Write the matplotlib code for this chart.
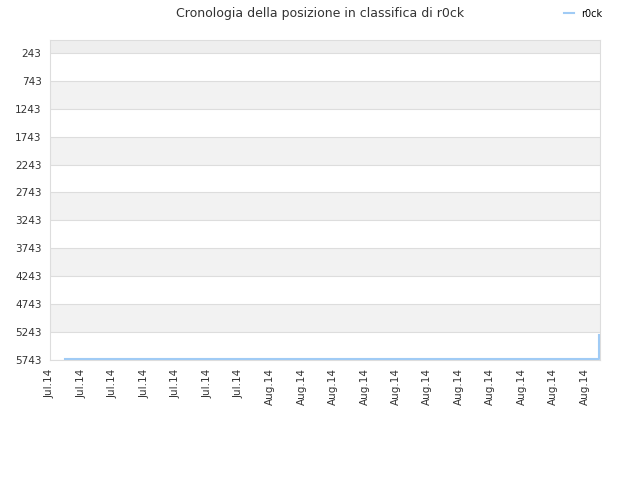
import matplotlib
matplotlib.use("Agg")
import matplotlib.pyplot as plt
from matplotlib.lines import Line2D

# x positions are days from the first tick; ticks every 3 days
tick_days = list(range(0, 52, 3))
tick_labels = ["Jul.14"] * 7 + ["Aug.14"] * 11

days = [1.4, 6, 12, 18, 24, 30, 36, 42, 48, 52.4, 52.4]
ranks = [5725, 5725, 5725, 5725, 5725, 5725, 5725, 5725, 5725, 5725, 5290]

ytick_vals = list(range(243, 5744, 500))

fig = plt.figure(figsize=(6.4, 4.8), dpi=100)
ax = fig.add_axes([0.078, 0.25, 0.86, 0.667])

ylo, yhi = 10, 5743
# alternating background bands
edges = [ylo] + ytick_vals
for i in range(len(edges) - 1):
    if i % 2 == 0:
        col = "#eeeeee" if i == 0 else "#f2f2f2"
        ax.axhspan(edges[i], edges[i + 1], color=col, lw=0, zorder=0)
for v in ytick_vals:
    ax.axhline(v, color="#dddddd", lw=0.8, zorder=1)

ax.plot(days, ranks, color="#a0cbf5", lw=1.5, zorder=3)

ax.set_xlim(0, 52.5)
ax.set_ylim(yhi, ylo)
ax.set_yticks(ytick_vals)
ax.set_yticklabels([str(v) for v in ytick_vals], fontsize=7.5, color="#333333")
ax.set_xticks(tick_days)
ax.set_xticklabels(tick_labels, rotation=90, fontsize=7.5, color="#333333")
ax.tick_params(length=0, pad=6)
for s in ax.spines.values():
    s.set_color("#dddddd")

fig.suptitle("Cronologia della posizione in classifica di r0ck", fontsize=9,
             color="#333333", y=0.985)
handle = Line2D([], [], color="#a0cbf5", lw=1.5)
fig.legend([handle], ["r0ck"], loc="upper right", bbox_to_anchor=(0.955, 1.0),
           frameon=False, fontsize=7, handlelength=1.0)

fig.savefig("out.png", dpi=100)
